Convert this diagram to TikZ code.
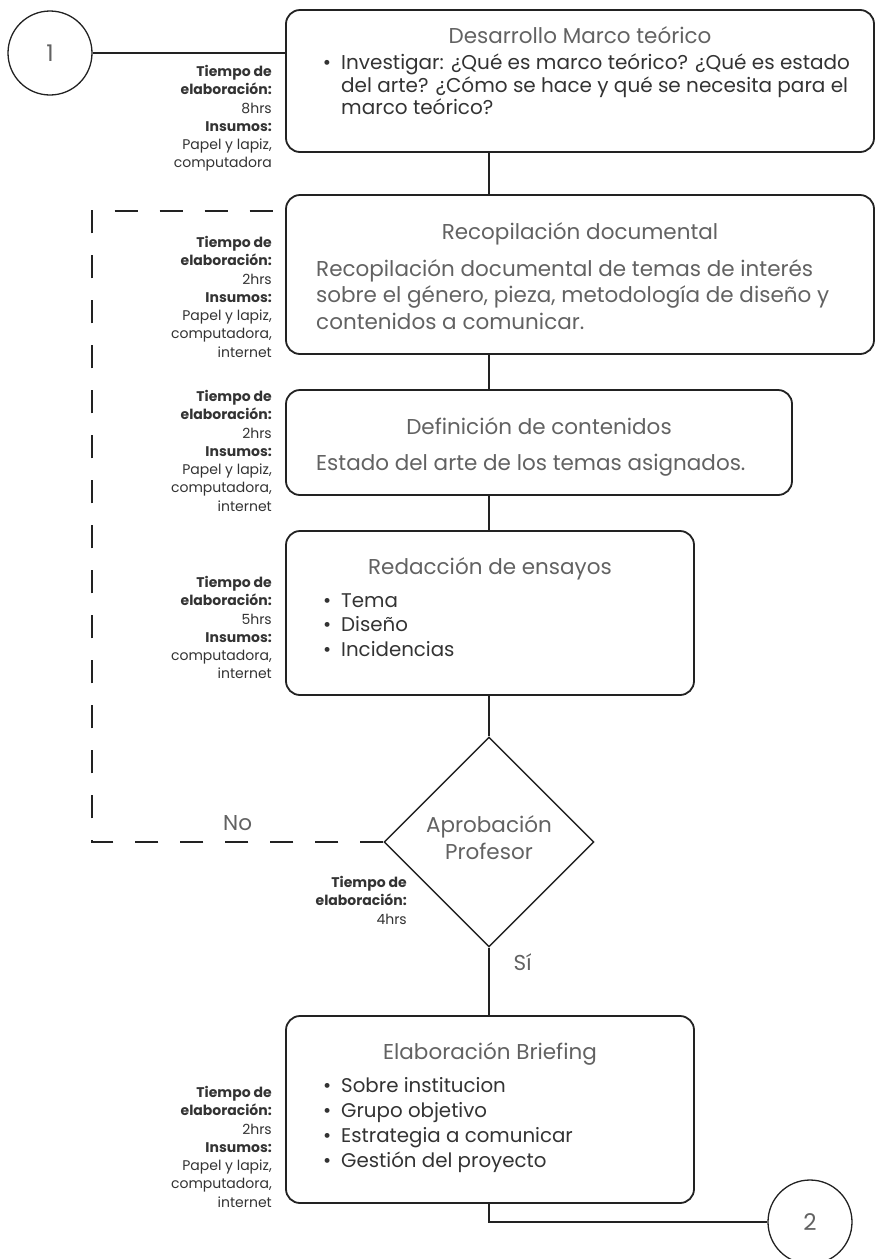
\documentclass[tikz,border=0pt]{standalone}
\usepackage{fontspec}
\setmainfont{Poppins}
\usetikzlibrary{calc,shapes.geometric}
\definecolor{linea}{HTML}{222222}
\definecolor{texto}{HTML}{333333}
\definecolor{suave}{HTML}{626262}
\newcommand\datos[2]{\textbf{Tiempo de}\\\textbf{elaboración:}\\#1\\\textbf{Insumos:}\\#2}

\begin{document}
\begin{tikzpicture}[
      x=1pt, y=-1pt,
      caja/.style = {
        draw=linea,
        line width=1.8pt,
        rounded corners=14pt,
        minimum width=408pt,
        inner sep=0pt,
      },
      conector/.style = {
        draw=linea,
        circle,
        line width=1.3pt,
        minimum size=84pt,
        text=suave,
        font=\fontsize{23}{26}\selectfont,
      },
      decision/.style = {
        draw=linea,
        diamond,
        aspect=1,
        line width=1.4pt,
        minimum width=210pt,
        minimum height=210pt,
        inner sep=0pt,
        align=center,
        text=suave,
        text depth=8pt,
        font=\fontsize{21.5}{27}\selectfont,
      },
      titulo/.style = {
        anchor=base,
        inner sep=0pt,
        text=suave,
        font=\fontsize{21.5}{24}\selectfont,
      },
      cuerpo/.style = {
        anchor=north west,
        inner sep=0pt,
        align=left,
        text=texto,
      },
      tiempo/.style = {
        anchor=north east,
        inner sep=0pt,
        align=right,
        text=texto,
        font=\fontsize{14}{18.3}\selectfont,
      },
      etiqueta/.style = {
        inner sep=0pt,
        text=suave,
        font=\fontsize{21.5}{24}\selectfont,
      },
      flujo/.style = {
        draw=linea,
        line width=1.3pt,
      },
      regreso/.style = {
        draw=linea,
        line width=1.8pt,
        dash pattern=on 23pt off 22pt,
      },
    ]
      \useasboundingbox (0, 0) rectangle (875, 1259);

      \node[conector] (inicio) at (50, 53) {1};
      \node[caja, minimum width=588pt, minimum height=142pt] (desarrollo) at (580, 81) {};
      \node[caja, minimum width=588pt, minimum height=159pt] (recopilacion) at (580, 274.5) {};
      \node[caja, minimum width=506pt, minimum height=105pt] (definicion) at (539, 442.5) {};
      \node[caja, minimum height=164pt] (redaccion) at (490, 613) {};
      \node[decision] (aprobacion) at (489, 842) {Aprobación\\Profesor};
      \node[caja, minimum height=187pt] (briefing) at (490, 1109.5) {};
      \node[conector] (fin) at (810, 1222) {2};

      \node[titulo] (t-desarrollo) at ($(desarrollo.north) + (0, 34.5)$) {Desarrollo Marco teórico};
      \node[titulo] (t-recopilacion) at ($(recopilacion.north) + (0, 45.5)$) {Recopilación documental};
      \node[titulo] (t-definicion) at ($(definicion.north) + (0, 45.5)$) {Definición de contenidos};
      \node[titulo] (t-redaccion) at ($(redaccion.north) + (0, 44.5)$) {Redacción de ensayos};
      \node[titulo] (t-briefing) at ($(briefing.north) + (0, 44.5)$) {Elaboración Briefing};

      \node[cuerpo, font=\fontsize{20}{20.7}\selectfont] (c-desarrollo) at (341, 54)
        {\llap{\textbullet\hspace{10pt}}Investigar: ¿Qué es marco teórico? ¿Qué es estado\\del arte? ¿Cómo se hace y qué se necesita para el\\marco teórico?};
      \node[cuerpo, text=suave, font=\fontsize{21.5}{26.7}\selectfont] (c-recopilacion) at (316, 259)
        {Recopilación documental de temas de interés\\sobre el género, pieza, metodología de diseño y\\contenidos a comunicar.};
      \node[cuerpo, text=suave, font=\fontsize{21.5}{24}\selectfont] (c-definicion) at (316, 454)
        {Estado del arte de los temas asignados.};
      \node[cuerpo, font=\fontsize{19.8}{24.5}\selectfont] (c-redaccion) at (341, 593)
        {\llap{\textbullet\hspace{10pt}}Tema\\\llap{\textbullet\hspace{10pt}}Diseño\\\llap{\textbullet\hspace{10pt}}Incidencias};
      \node[cuerpo, font=\fontsize{19.8}{25}\selectfont] (c-briefing) at (341, 1077)
        {\llap{\textbullet\hspace{10pt}}Sobre institucion\\\llap{\textbullet\hspace{10pt}}Grupo objetivo\\\llap{\textbullet\hspace{10pt}}Estrategia a comunicar\\\llap{\textbullet\hspace{10pt}}Gestión del proyecto};

      \node[tiempo] (i-desarrollo) at (272, 65) {\datos{8hrs}{Papel y lapiz,\\computadora}};
      \node[tiempo] (i-recopilacion) at (272, 236) {\datos{2hrs}{Papel y lapiz,\\computadora,\\internet}};
      \node[tiempo] (i-definicion) at (272, 390) {\datos{2hrs}{Papel y lapiz,\\computadora,\\internet}};
      \node[tiempo] (i-redaccion) at (272, 576) {\datos{5hrs}{computadora,\\internet}};
      \node[tiempo] (i-aprobacion) at (407, 876) {\textbf{Tiempo de}\\\textbf{elaboración:}\\4hrs};
      \node[tiempo] (i-briefing) at (272, 1086) {\datos{2hrs}{Papel y lapiz,\\computadora,\\internet}};

      \draw[flujo] (inicio) -- (inicio -| desarrollo.west);
      \draw[flujo] (desarrollo.south -| aprobacion) -- (recopilacion.north -| aprobacion);
      \draw[flujo] (recopilacion.south -| aprobacion) -- (definicion.north -| aprobacion);
      \draw[flujo] (definicion.south -| aprobacion) -- (redaccion.north -| aprobacion);
      \draw[flujo] (redaccion.south -| aprobacion) -- (aprobacion.north);
      \draw[flujo] (aprobacion.south) -- node[etiqueta, pos=0.22, anchor=west, xshift=24pt] (si) {Sí} (briefing.north -| aprobacion);
      \draw[flujo] (briefing.south -| aprobacion) |- (fin);

      \coordinate (retorno) at (92, 211);
      \draw[regreso] (aprobacion.west) -- node[etiqueta, above=10pt] (no) {No} (aprobacion.west -| retorno) -- (retorno) -- (retorno -| recopilacion.west);

    \end{tikzpicture}
\end{document}
